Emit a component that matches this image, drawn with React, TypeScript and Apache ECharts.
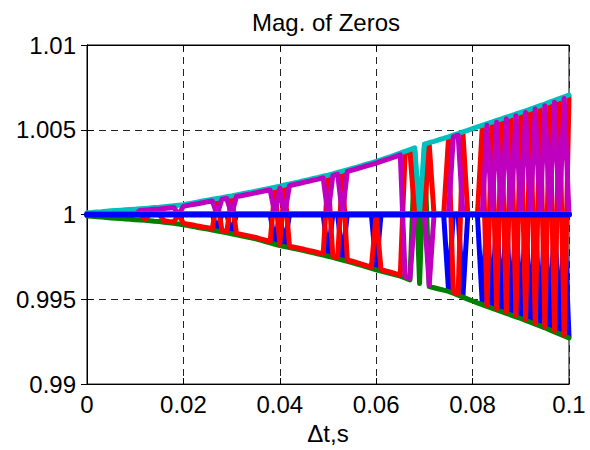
import React, { useEffect, useRef } from "react";
import * as echarts from "echarts";

// Sampling of the horizontal axis (Δt, s)
const T_STEP = 0.001;
const X_TICKS = [0, 0.02, 0.04, 0.06, 0.08, 0.1];
const Y_TICKS = [0.99, 0.995, 1, 1.005, 1.01];

// Upper branch of zero magnitudes (one value per 0.001 s)
const upperMag = [
  1.0, 1.00002, 1.00005, 1.00007, 1.0001, 1.00012,
  1.00014, 1.00016, 1.00018, 1.0002, 1.00022,
  1.00024, 1.00026, 1.00028, 1.00031, 1.00033,
  1.00036, 1.00039, 1.00042, 1.00045, 1.00048,
  1.00054, 1.00059, 1.00064, 1.0007, 1.00075,
  1.0008, 1.00085, 1.0009, 1.00095, 1.001,
  1.00106, 1.00111, 1.00117, 1.00122, 1.00128,
  1.00134, 1.0014, 1.00145, 1.00151, 1.00157,
  1.00164, 1.0017, 1.00177, 1.00183, 1.0019,
  1.00196, 1.00203, 1.00209, 1.00216, 1.00222,
  1.0023, 1.00238, 1.00246, 1.00254, 1.00262,
  1.0027, 1.00278, 1.00287, 1.00295, 1.00303,
  1.00313, 1.00323, 1.00332, 1.00342, 1.00352,
  1.00363, 1.00373, 1.00384, 1.00394, 1.00405,
  1.00414, 1.00422, 1.00431, 1.00439, 1.00448,
  1.00458, 1.00468, 1.00477, 1.00487, 1.00497,
  1.00507, 1.00516, 1.00526, 1.00535, 1.00545,
  1.00554, 1.00564, 1.00573, 1.00583, 1.00592,
  1.00602, 1.00612, 1.00622, 1.00632, 1.00642,
  1.00653, 1.00663, 1.00674, 1.00684, 1.00695,
];

// Lower branch of zero magnitudes
const lowerMag = [
  1.0, 0.99998, 0.99995, 0.99993, 0.9999, 0.99988,
  0.99986, 0.99984, 0.99982, 0.9998, 0.99978,
  0.99976, 0.99974, 0.99972, 0.99969, 0.99967,
  0.99963, 0.99959, 0.99956, 0.99952, 0.99948,
  0.99943, 0.99938, 0.99932, 0.99927, 0.99922,
  0.99917, 0.99911, 0.99906, 0.999, 0.99895,
  0.99889, 0.99883, 0.99877, 0.99871, 0.99865,
  0.99857, 0.99849, 0.99841, 0.99833, 0.99825,
  0.99819, 0.99813, 0.99807, 0.99801, 0.99795,
  0.99788, 0.99782, 0.99775, 0.99769, 0.99762,
  0.99755, 0.99747, 0.9974, 0.99732, 0.99725,
  0.99716, 0.99708, 0.99699, 0.99691, 0.99682,
  0.99675, 0.99667, 0.9966, 0.99652, 0.99645,
  0.99634, 0.99623, 0.99612, 0.99601, 0.9959,
  0.99583, 0.99576, 0.99569, 0.99562, 0.99555,
  0.99544, 0.99532, 0.99521, 0.99509, 0.99498,
  0.99487, 0.99477, 0.99466, 0.99456, 0.99445,
  0.99435, 0.99425, 0.99415, 0.99405, 0.99395,
  0.99384, 0.99373, 0.99362, 0.99351, 0.9934,
  0.99328, 0.99316, 0.99304, 0.99292, 0.9928,
];

// Unit-circle magnitude
const unitMag = 1.0;

// Which branch each zero sits on at every sample: U = upper, M = unit, L = lower
const blueLevels =
  "MMMMMMMMMM" + "MMMMMMMMMM" + "MMMMMMMLMM" + "LMMMMMMMML" + "MLMMMMMMMM" +
  "LMMLMMMMMM" + "LMMMMMMMMM" + "MMMMMLMMLM" + "MMLMLMLMLM" + "LMLMLMLMLM" + "L";
const greenLevels =
  "LLLLLLLLLL" + "LLLLLLLLLL" + "LLLLLLLLLL" + "LLLLLLLLLL" + "LLLLLLLLLL" +
  "LLLLLLLLLL" + "LLLLLLLLUL" + "ULLLLLLLLL" + "LLLLLLLLLL" + "LLLLLLLLLL" + "L";
const redLevels =
  "MMMMMMMMMM" + "MMLMMMLLLM" + "LLLLLLLULL" + "ULLLLLLLLU" + "LULLLLLLLL" +
  "ULLULLLLLL" + "MLLLLLUUMM" + "MUMMMULLUM" + "MMULULULUL" + "ULULULULUL" + "U";
const cyanLevels =
  "UUUUUUUUUU" + "UUUUUUUUUU" + "UUUUUUUUUU" + "UUUUUUUUUU" + "UUUUUUUUUU" +
  "UUUUUUUUUU" + "UUUUUUUUUM" + "UUUUUUUUUU" + "UUUUUUUUUU" + "UUUUUUUUUU" + "U";
const magentaLevels =
  "MMMMMMMMMM" + "MUUUUUUUUM" + "UUUUUUUMUU" + "MUUUUUUUUM" + "UMUUUUUUUU" +
  "MUUMUUUUUU" + "UUUUUULLMM" + "MLMMMMUUMM" + "MMMUMUMUMU" + "MUMUMUMUMU" + "M";
const yellowLevels =
  "MMMMMMMMMM" + "MMMMMMMMMM" + "MMMMMMMMMM" + "MMMMMMMMMM" + "MMMMMMMMMM" +
  "MMMMMMMMMM" + "MMMMMMMMMM" + "MMMMMMMMMM" + "MMMMMMMMMM" + "MMMMMMMMMM" + "M";
// The 8th zero (colour order wraps back to blue) stays on the unit circle
const blue2Levels = yellowLevels;

// Tiny separations between nearly coincident zeros (visible as edge tints)
const cyanLift = 0.0001;
const greenDrop = -0.00008;
const yellowLift = 0.00004;

const FONT = "'Liberation Sans', Arial, Helvetica, sans-serif";

function buildSeries(levels: string, offset: number) {
  const out: [number, number][] = [];
  for (let i = 0; i < upperMag.length; i++) {
    const lv = levels[i];
    let v = unitMag;
    if (lv === "U") v = upperMag[i];
    else if (lv === "L") v = lowerMag[i];
    out.push([+(i * T_STEP).toFixed(3), v + offset]);
  }
  return out;
}

function fmt(v: number) {
  return String(parseFloat(Number(v).toFixed(4)));
}

export default function App() {
  const ref = useRef<HTMLDivElement>(null);

  useEffect(() => {
    document.body.style.margin = "0";
    if (!ref.current) return;
    const chart = echarts.init(ref.current, undefined, { renderer: "svg" });

    // drawing order = MATLAB plotting order (later on top)
    const specs = [
      { name: "blue", color: "#0000FF", levels: blueLevels, offset: 0, width: 5 },
      { name: "green", color: "#008000", levels: greenLevels, offset: greenDrop, width: 5 },
      { name: "red", color: "#FF0000", levels: redLevels, offset: 0, width: 5 },
      { name: "cyan", color: "#00BFBF", levels: cyanLevels, offset: cyanLift, width: 5 },
      { name: "magenta", color: "#BF00BF", levels: magentaLevels, offset: 0, width: 5 },
      { name: "yellow", color: "#BFBF00", levels: yellowLevels, offset: yellowLift, width: 5 },
      { name: "blue2", color: "#0000FF", levels: blue2Levels, offset: 0, width: 6 },
    ];

    const gridLine = { show: true, lineStyle: { color: "#222", type: [7, 5], width: 1 } };
    const tickStyle = { show: true, inside: true, length: 6, lineStyle: { color: "#000" } };
    const labelStyle = { color: "#000", fontSize: 24, fontFamily: FONT };

    chart.setOption({
      animation: false,
      backgroundColor: "#fff",
      title: {
        text: "Mag. of Zeros",
        left: 321,
        top: 5,
        textAlign: "center",
        textStyle: { color: "#000", fontSize: 24, fontWeight: "normal", fontFamily: FONT },
      },
      grid: {
        left: 87,
        right: 21,
        top: 45,
        bottom: 61,
        show: true,
        borderColor: "#000",
        borderWidth: 1,
        backgroundColor: "transparent",
      },
      xAxis: [
        {
          type: "value",
          min: X_TICKS[0],
          max: X_TICKS[X_TICKS.length - 1],
          interval: 0.02,
          position: "bottom",
          axisLine: { show: true, lineStyle: { color: "#000" } },
          axisTick: tickStyle,
          splitLine: gridLine,
          axisLabel: { ...labelStyle, margin: 8, formatter: fmt },
          name: "Δt,s",
          nameLocation: "middle",
          nameGap: 36,
          nameTextStyle: { color: "#000", fontSize: 24, fontFamily: FONT },
        },
        {
          type: "value",
          min: X_TICKS[0],
          max: X_TICKS[X_TICKS.length - 1],
          interval: 0.02,
          position: "top",
          axisLine: { show: true, lineStyle: { color: "#000" } },
          axisTick: tickStyle,
          splitLine: { show: false },
          axisLabel: { show: false },
        },
      ],
      yAxis: [
        {
          type: "value",
          min: Y_TICKS[0],
          max: Y_TICKS[Y_TICKS.length - 1],
          interval: 0.005,
          position: "left",
          axisLine: { show: true, lineStyle: { color: "#000" } },
          axisTick: tickStyle,
          splitLine: gridLine,
          axisLabel: { ...labelStyle, margin: 11, formatter: fmt },
        },
        {
          type: "value",
          min: Y_TICKS[0],
          max: Y_TICKS[Y_TICKS.length - 1],
          interval: 0.005,
          position: "right",
          axisLine: { show: true, lineStyle: { color: "#000" } },
          axisTick: tickStyle,
          splitLine: { show: false },
          axisLabel: { show: false },
        },
      ],
      series: specs.map((s) => ({
        name: s.name,
        type: "line",
        xAxisIndex: 0,
        yAxisIndex: 0,
        data: buildSeries(s.levels, s.offset),
        showSymbol: false,
        symbol: "none",
        silent: true,
        clip: true,
        lineStyle: { color: s.color, width: s.width, join: "round", cap: "round" },
        emphasis: { disabled: true },
      })),
    });

    return () => chart.dispose();
  }, []);

  return <div ref={ref} style={{ width: 590, height: 450 }} />;
}
